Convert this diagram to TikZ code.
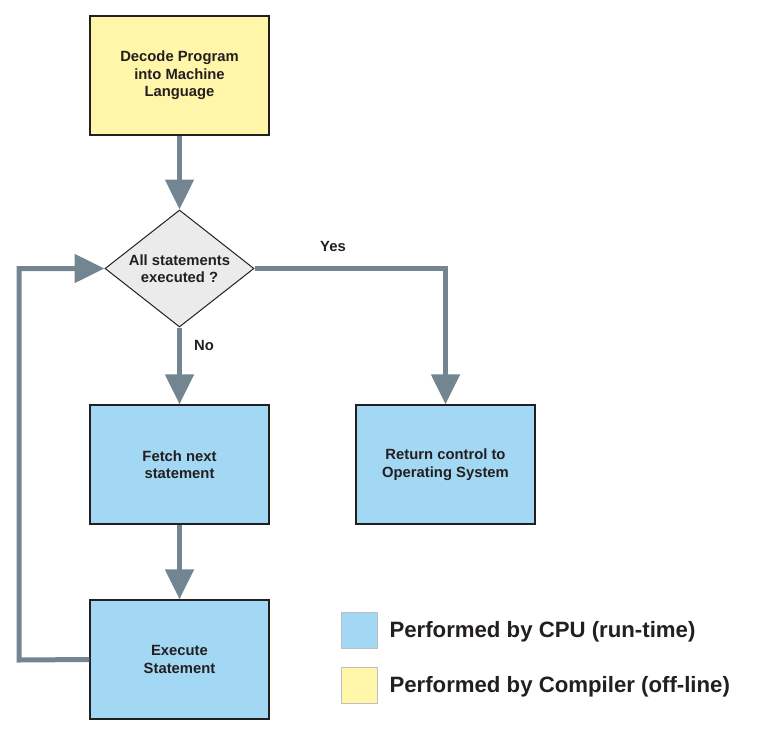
\documentclass[tikz,border=0pt]{standalone}
\usepackage{fontspec}
\setmainfont{Liberation Sans}
\usetikzlibrary{arrows.meta,shapes.geometric}
\definecolor{linegray}{HTML}{738590}
\definecolor{boxyellow}{HTML}{FFF6AA}
\definecolor{boxblue}{HTML}{A3D8F5}
\definecolor{diagray}{HTML}{EBEBEB}
\definecolor{txt}{HTML}{231F20}
\begin{document}
\begin{tikzpicture}[x=1pt,y=-1pt,
  every node/.style={text=txt,font=\bfseries\fontsize{14.8}{17.5}\selectfont},
  procbox/.style={draw=txt,line width=1.4pt,minimum width=179pt,minimum height=119pt,align=center,inner sep=0pt},
  decision/.style={diamond,draw=txt,line width=1pt,fill=diagray,minimum width=149pt,minimum height=117pt,aspect=1.27,align=center,inner sep=0pt},
  flow/.style={draw=linegray,line width=5pt,line join=miter,-{Triangle[width=28pt,length=30pt]}},
  legendbox/.style={draw=gray!50,line width=0.8pt,minimum width=36pt,minimum height=36pt,inner sep=0pt},
  legendtext/.style={anchor=west,font=\bfseries\fontsize{22.2}{26}\selectfont}
]
\useasboundingbox (0,0) rectangle (770,733);
\node[procbox,fill=boxyellow] (decode) at (179.5,75.5) {Decode Program\\into Machine\\Language};
\node[decision] (check) at (179.5,268.5) {All statements\\executed ?};
\node[procbox,fill=boxblue] (fetch) at (179.5,464.5) {Fetch next\\statement};
\node[procbox,fill=boxblue] (exec) at (179.5,659.5) {Execute\\Statement};
\node[procbox,fill=boxblue] (ret) at (445.5,464.5) {Return control to\\Operating System};
\coordinate (loopbot) at (19,660);
\coordinate (looptop) at (19,268.5);
\coordinate (yescorner) at (445.5,268.5);
\draw[flow] (decode.south) -- (check.north);
\draw[flow] (check.south) -- (fetch.north);
\draw[flow] (fetch.south) -- (exec.north);
\draw[flow] (exec.west) -- (loopbot) -- (looptop) -- (check.west);
\draw[flow] (check.east) -- (yescorner) -- (ret.north);
\node (yes) at (333,246) {Yes};
\node (no) at (204,345) {No};
\node[legendbox,fill=boxblue] (lcpu) at (359,630) {};
\node[legendbox,fill=boxyellow] (lcomp) at (359,685) {};
\node[legendtext] (tcpu) at (386,632) {Performed by CPU (run-time)};
\node[legendtext] (tcomp) at (386,687) {Performed by Compiler (off-line)};
\end{tikzpicture}
\end{document}
